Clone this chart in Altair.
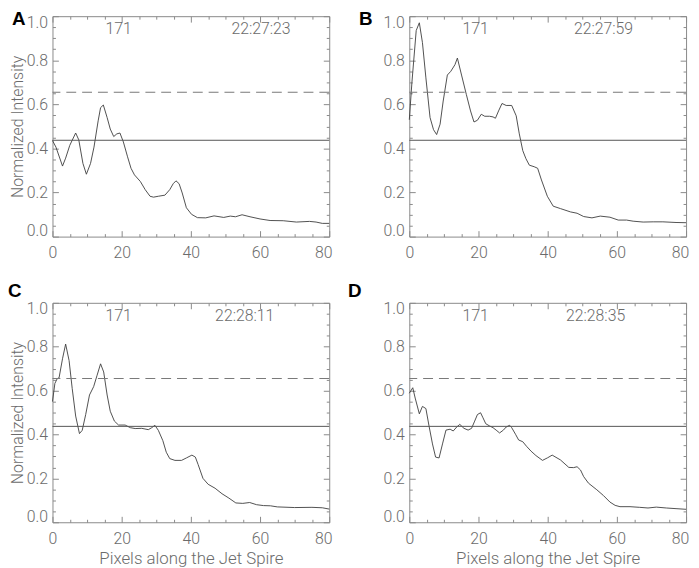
import altair as alt
import pandas as pd

# ---- data ----
xA = [0, 1.0, 2.9, 3.8, 5.0, 6.7, 7.6, 8.8, 9.8, 11.0, 12.0, 13.2, 13.9, 14.7, 15.8, 16.7, 17.7, 18.6,
      19.5, 20.5, 21.7, 22.7, 23.7, 25.4, 26.8, 28.2, 29.2, 30.6, 32.5, 33.9, 34.9, 35.7, 36.6, 37.5,
      38.7, 40.2, 41.9, 44.3, 46.7, 49.5, 51.4, 52.9, 54.8, 57.1, 60, 62.9, 66.7, 70.5, 74.3, 76.2, 78, 80]
yA = [0.436, 0.406, 0.32, 0.356, 0.414, 0.47, 0.439, 0.332, 0.283, 0.332, 0.406, 0.525, 0.585, 0.597,
      0.54, 0.488, 0.454, 0.466, 0.47, 0.429, 0.362, 0.31, 0.28, 0.25, 0.213, 0.183, 0.179, 0.183, 0.188,
      0.213, 0.24, 0.253, 0.24, 0.198, 0.131, 0.101, 0.086, 0.085, 0.094, 0.087, 0.093, 0.09, 0.099, 0.09,
      0.08, 0.073, 0.072, 0.066, 0.069, 0.066, 0.06, 0.06]

xB = [0, 0.76, 2.0, 2.9, 3.8, 4.8, 6.0, 7.0, 7.9, 8.9, 9.8, 11.0, 12.0, 13.2, 13.9, 15.1, 16.5, 17.7,
      18.7, 19.7, 20.8, 21.8, 23.2, 24.2, 24.9, 25.8, 26.8, 28.0, 29.6, 30.9, 31.8, 32.8, 33.7, 34.7,
      36.1, 37.1, 38.2, 39.9, 41.6, 43.7, 46.6, 48.5, 50.4, 52.8, 55.2, 58, 60.4, 62.8, 64.7, 67.6, 70.5,
      73.3, 77.1, 80]
yB = [0.53, 0.70, 0.935, 0.97, 0.88, 0.72, 0.54, 0.485, 0.463, 0.51, 0.615, 0.733, 0.75, 0.78, 0.81,
      0.733, 0.644, 0.57, 0.52, 0.528, 0.555, 0.546, 0.546, 0.543, 0.537, 0.57, 0.604, 0.595, 0.595,
      0.548, 0.466, 0.39, 0.354, 0.324, 0.317, 0.31, 0.257, 0.183, 0.138, 0.127, 0.112, 0.106, 0.091,
      0.085, 0.093, 0.088, 0.075, 0.075, 0.07, 0.066, 0.067, 0.067, 0.064, 0.063]

xC = [0, 0.7, 1.4, 1.9, 2.9, 3.8, 4.8, 5.7, 6.7, 7.8, 8.6, 9.6, 10.7, 11.9, 12.9, 13.9, 14.8, 15.8,
      16.7, 17.9, 19.1, 21.0, 22.5, 23.9, 25.8, 27.7, 28.7, 29.6, 30.6, 31.9, 32.9, 33.9, 35.4, 37.3,
      38.7, 40.3, 41.3, 42.1, 43.5, 45, 47, 49, 51, 53, 55, 57, 59, 61, 63, 65, 70, 75, 78, 80]
yC = [0.55, 0.633, 0.655, 0.658, 0.745, 0.812, 0.737, 0.61, 0.484, 0.404, 0.419, 0.491, 0.58, 0.618,
      0.67, 0.722, 0.685, 0.58, 0.506, 0.461, 0.443, 0.443, 0.431, 0.427, 0.428, 0.422, 0.431, 0.442,
      0.419, 0.372, 0.319, 0.29, 0.282, 0.282, 0.293, 0.306, 0.297, 0.263, 0.2, 0.173, 0.155, 0.13,
      0.11, 0.088, 0.086, 0.09, 0.08, 0.076, 0.075, 0.07, 0.067, 0.068, 0.066, 0.06]

xD = [0, 1.0, 1.7, 2.9, 3.8, 4.8, 5.7, 6.7, 7.6, 8.6, 9.6, 10.6, 11.8, 12.7, 13.7, 14.6, 15.8, 17.0,
      18.0, 18.9, 19.7, 20.6, 21.3, 22.1, 23.2, 24.2, 25.1, 26.1, 27.2, 28.0, 29.0, 29.6, 30.7, 31.6,
      32.8, 33.9, 35.2, 36.6, 38.5, 40.0, 41.3, 43.7, 46.1, 47.5, 48.5, 49.5, 50.4, 51.8, 54.2, 56.1,
      58, 59.5, 60.9, 63.8, 66.6, 69, 71.4, 74.3, 77.1, 80]
yD = [0.588, 0.613, 0.566, 0.494, 0.528, 0.518, 0.439, 0.357, 0.297, 0.293, 0.357, 0.42, 0.424, 0.416,
      0.434, 0.446, 0.428, 0.42, 0.428, 0.461, 0.491, 0.499, 0.476, 0.449, 0.439, 0.431, 0.42, 0.407,
      0.42, 0.434, 0.442, 0.431, 0.401, 0.375, 0.367, 0.346, 0.324, 0.304, 0.282, 0.294, 0.306, 0.284,
      0.25, 0.249, 0.253, 0.238, 0.208, 0.178, 0.148, 0.122, 0.092, 0.077, 0.071, 0.071, 0.068, 0.065,
      0.069, 0.065, 0.062, 0.059]

dashed_level = [0.655]
solid_level = [0.437]
letters = ["A", "B", "C", "D"]
times = ["22:27:23", "22:27:59", "22:28:11", "22:28:35"]
channel = ["171"]
x_major = [0, 20, 40, 60, 80]
x_minor = [5, 10, 15, 25, 30, 35, 45, 50, 55, 65, 70, 75]
y_major = [0.0, 0.2, 0.4, 0.6, 0.8, 1.0]
y_minor = [0.05, 0.1, 0.15, 0.25, 0.3, 0.35, 0.45, 0.5, 0.55, 0.65, 0.7, 0.75, 0.85, 0.9, 0.95]

FONT = "Roboto"
TEXT = "#6b6b6b"
FRAME = "#8a8a8a"
W = 280


def panel(x, y, letter, time, height, xtitle, ytitle, letter_x, letter_y, time_x):
    df = pd.DataFrame({"x": x, "y": y})
    xs = alt.Scale(domain=[0, 80], nice=False, zero=False)
    ys = alt.Scale(domain=[0, 1], nice=False, zero=False)
    common = dict(domain=False, grid=False, tickColor=FRAME, tickWidth=1)
    lab = dict(labelFont=FONT, labelFontSize=16, labelColor=TEXT, labelFontWeight=300,
               titleFont=FONT, titleColor=TEXT, titleFontWeight=300)

    xaxis = alt.Axis(orient="bottom", values=x_major, tickSize=6, offset=-6, labelPadding=8,
                     format="d", labelFlush=False, labelOverlap=False,
                     labelOffset={"expr": "datum.value == 80 ? -6 : 0"},
                     titleFontSize=17, titlePadding=5, **common, **lab)
    yaxis = alt.Axis(orient="left", values=y_major, tickSize=6, offset=-6, labelPadding=5,
                     format=".1f", labelFlush=False, labelOverlap=False,
                     labelOffset={"expr": "datum.value == 1 ? 6 : (datum.value == 0 ? -6 : 0)"},
                     titleFontSize=16, titlePadding=1, **common, **lab)

    curve = alt.Chart(df).mark_line(color="#3c3c3c", strokeWidth=0.9).encode(
        x=alt.X("x:Q", scale=xs, axis=xaxis, title=xtitle),
        y=alt.Y("y:Q", scale=ys, axis=yaxis, title=ytitle),
    )

    def tick_layer(xo, yo, xv, yv, size):
        return alt.Chart(df).mark_line(opacity=0).encode(
            x=alt.X("x:Q", scale=xs, title=None,
                    axis=alt.Axis(orient=xo, values=xv, tickSize=size, offset=-size,
                                  labels=False, **common)),
            y=alt.Y("y:Q", scale=ys, title=None,
                    axis=alt.Axis(orient=yo, values=yv, tickSize=size, offset=-size,
                                  labels=False, **common)),
        )

    top_major = tick_layer("top", "right", x_major, y_major, 6)
    bot_minor = tick_layer("bottom", "left", x_minor, y_minor, 3)
    top_minor = tick_layer("top", "right", x_minor, y_minor, 3)

    dashed = alt.Chart(pd.DataFrame({"level": dashed_level})).mark_rule(
        color="#7a7a7a", strokeWidth=1.2, strokeDash=[10, 6]).encode(
        y=alt.Y("level:Q", scale=ys, axis=None))
    solid = alt.Chart(pd.DataFrame({"level": solid_level})).mark_rule(
        color="#555555", strokeWidth=1).encode(
        y=alt.Y("level:Q", scale=ys, axis=None))

    txt_style = dict(font=FONT, fontSize=16, color=TEXT, fontWeight=300, baseline="middle")
    ch = alt.Chart(pd.DataFrame({"t": channel})).mark_text(**txt_style).encode(
        x=alt.value(67), y=alt.value(13), text="t:N")
    tm = alt.Chart(pd.DataFrame({"t": [time]})).mark_text(**txt_style).encode(
        x=alt.value(time_x), y=alt.value(13), text="t:N")
    let = alt.Chart(pd.DataFrame({"t": [letter]})).mark_text(
        font="Liberation Sans", fontWeight="bold", fontSize=19, color="black",
        align="left", baseline="alphabetic").encode(
        x=alt.value(letter_x), y=alt.value(letter_y), text="t:N")

    return alt.layer(curve, dashed, solid, top_major, bot_minor, top_minor, ch, tm, let).resolve_axis(
        x="independent", y="independent").properties(width=W, height=height)


pA = panel(xA, yA, letters[0], times[0], 223, None, "Normalized Intensity", -41, 9, 211)
pB = panel(xB, yB, letters[1], times[1], 223, None, None, -51, 9, 196.5)
pC = panel(xC, yC, letters[2], times[2], 222, "Pixels along the Jet Spire", "Normalized Intensity", -45, -6, 194.5)
pD = panel(xD, yD, letters[3], times[3], 222, "Pixels along the Jet Spire", None, -62, -6, 188.5)

chart = alt.concat(pA, pB, pC, pD, columns=2, spacing={"row": 67, "column": 81}, bounds="flush").properties(
    autosize=alt.AutoSizeParams(type="none"),
    padding={"left": 45, "top": 5, "right": 646, "bottom": 555},
).configure_view(stroke=FRAME, strokeWidth=1)

chart.save("out.html", embed_options={"renderer": "svg", "actions": False})
